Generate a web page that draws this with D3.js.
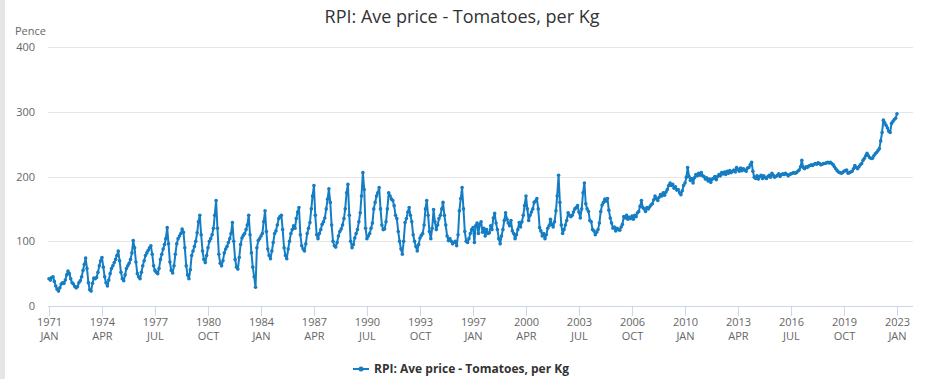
<!DOCTYPE html>
<meta charset="utf-8">
<style>
  body { margin: 0; background: #fff; }
  text { font-family: "Open Sans", sans-serif; }
</style>
<body>
<script src="https://cdn.jsdelivr.net/npm/d3@7"></script>
<script>

    // monthly average price, pence per kg, Jan..Dec for each year
    var prices1970s = [
        42, 40, 44, 45, 38, 31, 26, 23, 28, 34, 36, 35,       // 1971
        40, 48, 54, 50, 42, 36, 34, 30, 28, 30, 36, 39,       // 1972
        45, 55, 64, 74, 58, 36, 25, 23, 35, 43, 42, 44,       // 1973
        52, 62, 70, 75, 60, 45, 36, 31, 40, 50, 58, 62,       // 1974
        67, 72, 78, 85, 70, 52, 42, 39, 48, 58, 62, 66,       // 1975
        72, 82, 101, 90, 68, 50, 45, 42, 52, 62, 70, 78,      // 1976
        82, 86, 90, 93, 80, 62, 55, 52, 50, 58, 72, 80,       // 1977
        88, 95, 104, 121, 96, 68, 55, 51, 62, 80, 96, 104,    // 1978
        108, 112, 119, 114, 90, 62, 48, 42, 56, 78, 85, 92    // 1979
    ];
    var prices1980s = [
        100, 113, 130, 140, 110, 85, 72, 67, 78, 90, 100, 104,
        110, 120, 140, 163, 120, 80, 66, 62, 70, 82, 88, 92,
        98, 104, 112, 129, 100, 72, 60, 57, 75, 95, 105, 109,
        112, 118, 125, 140, 110, 82, 60, 45, 29, 90, 101, 104,
        108, 112, 130, 147, 115, 88, 78, 73, 85, 98, 112, 116,
        125, 135, 138, 140, 118, 90, 78, 73, 88, 100, 112, 118,
        124, 120, 135, 145, 152, 110, 93, 88, 85, 96, 112, 120,
        129, 150, 170, 186, 140, 110, 104, 112, 118, 126, 130, 136,
        150, 165, 181, 160, 125, 100, 93, 91, 98, 108, 115, 119,
        125, 135, 150, 175, 188, 140, 100, 90, 95, 105, 112, 118
    ];
    var prices1990s = [
        130, 144, 170, 206, 180, 120, 104, 108, 112, 120, 128, 150,
        160, 170, 175, 183, 150, 125, 118, 119, 130, 150, 175, 170,
        165, 163, 155, 140, 135, 115, 100, 88, 80, 100, 129, 135,
        145, 152, 140, 130, 110, 100, 92, 85, 95, 105, 109, 112,
        125, 150, 163, 140, 115, 104, 120, 149, 130, 118, 125, 135,
        140, 150, 160, 140, 125, 108, 101, 104, 100, 96, 98, 100,
        93, 110, 147, 166, 183, 150, 115, 100, 98, 104, 112, 118,
        121, 98, 124, 128, 112, 126, 130, 114, 120, 108, 118, 112,
        113, 124, 118, 136, 143, 128, 118, 104, 96, 108, 118, 132,
        144, 134, 128, 124, 132, 116, 112, 104, 110, 118, 129, 122
    ];
    var prices2000s = [
        130, 140, 155, 170, 150, 132, 140, 145, 150, 160, 162, 166,
        150, 121, 116, 108, 112, 104, 110, 120, 124, 134, 126, 122,
        130, 147, 170, 202, 160, 125, 112, 118, 125, 132, 144, 140,
        138, 140, 145, 150, 152, 155, 145, 136, 150, 175, 190, 158,
        150, 146, 132, 130, 118, 116, 110, 114, 118, 128, 146, 156,
        160, 165, 162, 166, 148, 136, 128, 120, 122, 116, 120, 118,
        117, 122, 126, 138, 136, 140, 134, 137, 135, 139, 134, 140,
        138, 144, 146, 154, 163, 152, 150, 146, 152, 150, 153, 156,
        158, 164, 170, 166, 163, 168, 172, 170, 175, 171, 176, 180,
        186, 190, 186, 188, 182, 184, 179, 180, 175, 172, 178, 186
    ];
    var prices2010s = [
        190, 199, 214, 200, 194, 197, 190, 198, 203, 201, 205, 202,
        206, 201, 200, 196, 198, 193, 196, 191, 196, 197, 200, 195,
        200, 203, 201, 206, 204, 207, 203, 208, 205, 209, 206, 208,
        210, 207, 214, 211, 208, 213, 209, 212, 210, 208, 213, 214,
        218, 222, 208, 199, 197, 201, 196, 200, 202, 197, 201, 198,
        197, 200, 202, 199, 205, 202, 199, 200, 202, 204, 200, 203,
        204, 203, 205, 203, 201, 203, 204, 205, 206, 205, 206, 208,
        210, 215, 225, 214, 212, 215, 214, 216, 217, 218, 217, 219,
        220, 219, 221, 220, 218, 219, 220, 220, 221, 222, 221, 222,
        220, 218, 215, 212, 209, 207, 206, 205, 206, 208, 209, 210
    ];
    var prices2020s = [
        205, 206, 207, 208, 212, 217, 214, 212, 215, 218, 220, 225,
        228, 232, 236, 232, 229, 228, 228, 232, 235, 237, 240, 243,
        255, 268, 287, 283, 279, 275, 270, 268, 282, 285, 288, 290,
        297
    ];

    var tickYears = ["1971", "1974", "1977", "1980", "1984", "1987", "1990", "1993", "1997",
                     "2000", "2003", "2006", "2010", "2013", "2016", "2019", "2023"];
    var tickMonths = ["JAN", "APR", "JUL", "OCT", "JAN", "APR", "JUL", "OCT", "JAN",
                      "APR", "JUL", "OCT", "JAN", "APR", "JUL", "OCT", "JAN"];
    var yTicks = [0, 100, 200, 300, 400];

    var seriesName = "RPI: Ave price - Tomatoes, per Kg";
    var colour = "#157dc3";

    var width = 925,
        height = 379;

    var values = [].concat(prices1970s, prices1980s, prices1990s, prices2000s, prices2010s, prices2020s);
    var data = values.map(function(v, i) {
        return {date: new Date(1971, i, 1), value: v};
    });

    var monthNum = {JAN: 0, APR: 3, JUL: 6, OCT: 9};
    var tickDates = tickYears.map(function(y, i) {
        return new Date(+y, monthNum[tickMonths[i]], 1);
    });

    var svg = d3.select("body").append("svg")
            .attr("width", width)
            .attr("height", height);

    // grey strip on left edge
    svg.append("rect").attr("x", 0).attr("y", 0).attr("width", 5).attr("height", height).attr("fill", "#e6e6e6");

    var x = d3.scaleTime()
            .domain([new Date(1971, 0, 1), new Date(2023, 0, 1)])
            .range([49, 897]);

    var y = d3.scaleLinear()
            .domain([0, 400])
            .range([306, 47]);

    var plotLeft = 48, plotRight = 913;

    // gridlines
    svg.append("g")
        .selectAll("line")
        .data(yTicks.filter(function(d) { return d > 0; }))
        .enter().append("line")
        .attr("x1", plotLeft).attr("x2", plotRight)
        .attr("y1", function(d) { return Math.round(y(d)) + 0.5; })
        .attr("y2", function(d) { return Math.round(y(d)) + 0.5; })
        .attr("stroke", "#e6e6e6");

    // y labels
    svg.append("g")
        .selectAll("text")
        .data(yTicks)
        .enter().append("text")
        .attr("x", 35)
        .attr("y", function(d) { return y(d) + 4; })
        .attr("text-anchor", "end")
        .attr("font-size", 11)
        .attr("fill", "#666")
        .text(function(d) { return d; });

    svg.append("text")
        .attr("x", 15).attr("y", 35)
        .attr("font-size", 11)
        .attr("fill", "#666")
        .text("Pence");

    // x axis
    var xAxis = d3.axisBottom(x)
            .tickValues(tickDates)
            .tickSize(10)
            .tickSizeOuter(0)
            .tickFormat("");

    var gx = svg.append("g")
            .attr("transform", "translate(0," + Math.round(y(0)) + ")")
            .call(xAxis);
    gx.select(".domain").remove();
    gx.selectAll(".tick line").attr("stroke", "#ccd6eb");
    gx.append("line")
        .attr("x1", plotLeft).attr("x2", plotRight)
        .attr("y1", 0.5).attr("y2", 0.5)
        .attr("stroke", "#ccd6eb");

    gx.selectAll(".tick").each(function(d, i) {
        var t = d3.select(this).append("text")
            .attr("fill", "#666")
            .attr("font-size", 11)
            .attr("text-anchor", "middle");
        t.append("tspan").attr("x", 0).attr("y", 20).text(tickYears[i]);
        t.append("tspan").attr("x", 0).attr("y", 34).text(tickMonths[i]);
    });

    // series
    var line = d3.line()
            .x(function(d) { return x(d.date); })
            .y(function(d) { return y(d.value); });

    svg.append("path")
        .datum(data)
        .attr("fill", "none")
        .attr("stroke", colour)
        .attr("stroke-width", 2)
        .attr("stroke-linejoin", "round")
        .attr("d", line);

    svg.append("g")
        .selectAll("circle")
        .data(data)
        .enter().append("circle")
        .attr("cx", function(d) { return x(d.date); })
        .attr("cy", function(d) { return y(d.value); })
        .attr("r", 1.8)
        .attr("fill", colour);

    // title
    svg.append("text")
        .attr("x", 462).attr("y", 23)
        .attr("text-anchor", "middle")
        .attr("font-size", 18)
        .attr("fill", "#333")
        .text(seriesName);

    // legend
    var lg = svg.append("g").attr("transform", "translate(353,369)");
    lg.append("line").attr("x1", 0).attr("x2", 16).attr("y1", 0).attr("y2", 0)
        .attr("stroke", colour).attr("stroke-width", 2);
    lg.append("circle").attr("cx", 8).attr("cy", 0).attr("r", 2.5).attr("fill", colour);
    lg.append("text")
        .attr("x", 21).attr("y", 4)
        .attr("font-size", 12)
        .attr("font-weight", "bold")
        .attr("fill", "#333")
        .text(seriesName);

</script>
